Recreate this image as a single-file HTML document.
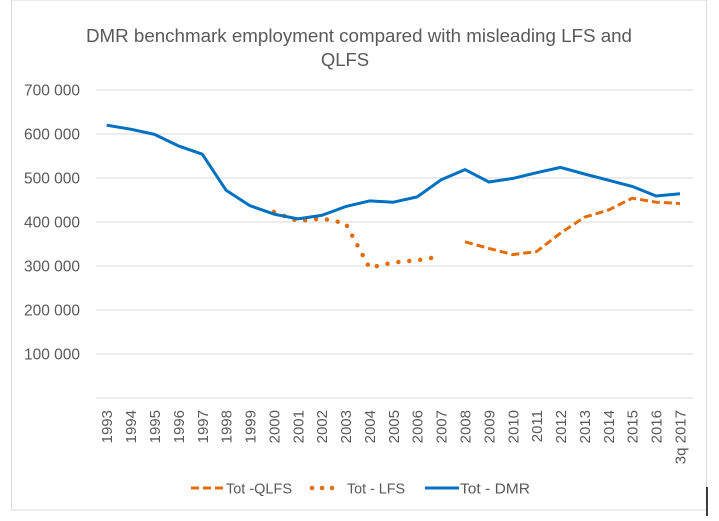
<!DOCTYPE html>
<html><head><meta charset="utf-8">
<style>
body{margin:0;background:#fff;width:719px;height:516px;overflow:hidden;font-family:"Liberation Sans",sans-serif;}
svg text{font-family:"Liberation Sans",sans-serif;fill:#595959;}
</style></head>
<body>
<svg id="chart" width="719" height="516" xmlns="http://www.w3.org/2000/svg">
<rect x="11.5" y="0" width="695" height="510" fill="#fff" stroke="#d9d9d9"/>
<line x1="707" y1="487" x2="707" y2="516" stroke="#000" stroke-width="1.5"/>
<text x="86" y="42" font-size="18.5" textLength="546" lengthAdjust="spacingAndGlyphs">DMR benchmark employment compared with misleading LFS and</text>
<text x="345" y="66" font-size="18.5" text-anchor="middle">QLFS</text>
<g id="grid"></g><g id="xlabels"></g><g id="series"></g>
<g>
<line x1="191" y1="488" x2="224" y2="488" stroke="#e46c0a" stroke-width="3" stroke-dasharray="8,4"/>
<text x="226" y="493.5" font-size="15" textLength="66" lengthAdjust="spacingAndGlyphs">Tot -QLFS</text>
<line x1="312" y1="488" x2="337" y2="488" stroke="#e46c0a" stroke-width="4.5" stroke-linecap="round" stroke-dasharray="0,10"/>
<text x="347" y="493.5" font-size="15" textLength="58" lengthAdjust="spacingAndGlyphs">Tot - LFS</text>
<line x1="425" y1="488" x2="459" y2="488" stroke="#0070c0" stroke-width="3"/>
<text x="460" y="493.5" font-size="15" textLength="70" lengthAdjust="spacingAndGlyphs">Tot - DMR</text>
</g>
</svg>
<script>
const categories=["1993","1994","1995","1996","1997","1998","1999","2000","2001","2002","2003","2004","2005","2006","2007","2008","2009","2010","2011","2012","2013","2014","2015","2016","3q 2017"];
const dmr=[620,611,599,573,554,472,437,418,407,415,435,448,445,457,496,519,491,499,512,524,509,495,481,459,464];
const lfs=[null,null,null,null,null,null,null,423,402,408,397,296,308,313,322,null,null,null,null,null,null,null,null,null,null];
const qlfs=[null,null,null,null,null,null,null,null,null,null,null,null,null,null,null,355,340,326,333,375,411,427,454,445,442];
const yTicks=[100,200,300,400,500,600,700];
const NS="http://www.w3.org/2000/svg";
const x=i=>106.7+i*(680-106.7)/24;
const y=v=>398-v*0.44;
const grid=document.getElementById('grid');
for(let t=0;t<=700;t+=100){
 const l=document.createElementNS(NS,'line');
 
 
 l.setAttribute('x1',96);l.setAttribute('x2',693);l.setAttribute('y1',y(t));l.setAttribute('y2',y(t));
 l.setAttribute('stroke','#d9d9d9');l.setAttribute('stroke-width','1');grid.appendChild(l);
}
yTicks.forEach(t=>{
 const tx=document.createElementNS(NS,'text');
 
 
 tx.setAttribute('x',80);tx.setAttribute('y',y(t)+5.5);tx.setAttribute('font-size','15.5');tx.setAttribute('text-anchor','end');
 tx.textContent=t+" 000";grid.appendChild(tx);
});
const xl=document.getElementById('xlabels');
categories.forEach((c,i)=>{
 const tx=document.createElementNS(NS,'text');
 
 
 tx.setAttribute('font-size','15');tx.setAttribute('text-anchor','end');
 tx.setAttribute('transform','translate('+(x(i)+5.5)+',410) rotate(-90)');
 tx.textContent=c;xl.appendChild(tx);
});
function path(arr,name,color,w,dash,cap){
 let d='';arr.forEach((v,i)=>{if(v==null)return;d+=(d?'L':'M')+x(i).toFixed(1)+','+y(v).toFixed(1);});
 const p=document.createElementNS(NS,'path');
 
 
 p.setAttribute('d',d);p.setAttribute('fill','none');p.setAttribute('stroke',color);p.setAttribute('stroke-width',w);
 p.setAttribute('stroke-linejoin','round');
 if(dash)p.setAttribute('stroke-dasharray',dash);
 if(cap)p.setAttribute('stroke-linecap',cap);
 document.getElementById('series').appendChild(p);
}
path(qlfs,'qlfs-line','#e46c0a',3,'8,4');
path(lfs,'lfs-line','#e46c0a',4.5,'0,11','round');
path(dmr,'dmr-line','#0070c0',3);
</script>
</body></html>
